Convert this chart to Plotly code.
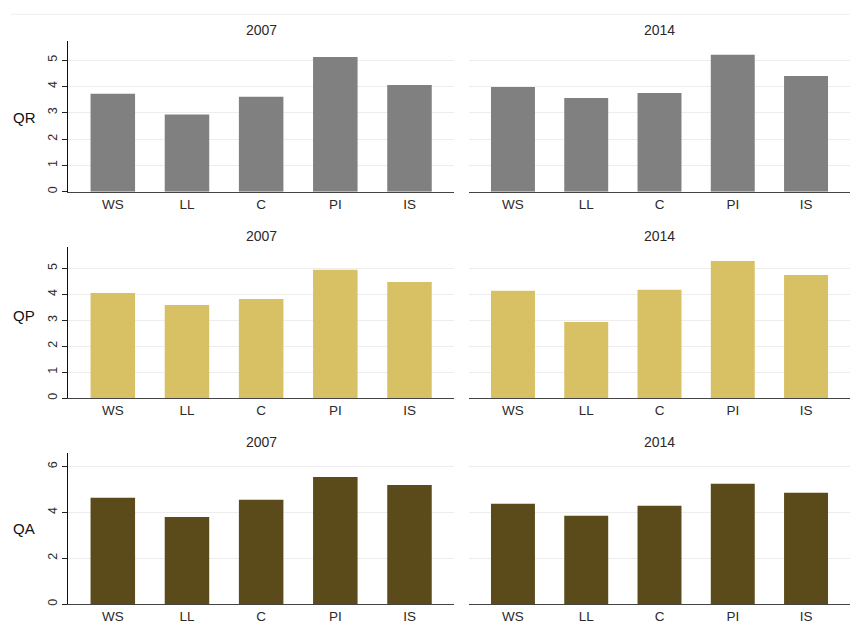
import plotly.graph_objects as go
from plotly.subplots import make_subplots

W, H = 851, 626

categories = ["WS", "LL", "C", "PI", "IS"]
years = ["2007", "2014"]
measures = ["QR", "QP", "QA"]

qr_2007 = [3.72, 2.93, 3.61, 5.12, 4.05]
qr_2014 = [3.98, 3.56, 3.75, 5.20, 4.40]
qp_2007 = [4.05, 3.59, 3.82, 4.95, 4.48]
qp_2014 = [4.14, 2.93, 4.18, 5.29, 4.75]
qa_2007 = [4.64, 3.80, 4.55, 5.55, 5.20]
qa_2014 = [4.38, 3.86, 4.29, 5.25, 4.86]

series = {
    "QR": (qr_2007, qr_2014),
    "QP": (qp_2007, qp_2014),
    "QA": (qa_2007, qa_2014),
}
bar_colors = {"QR": "#808080", "QP": "#D8C164", "QA": "#5B4A1A"}
y_ranges = {"QR": [0, 5.72], "QP": [0, 5.82], "QA": [0, 6.6]}
y_dtick = {"QR": 1, "QP": 1, "QA": 2}

# panel geometry in pixels (left, right) and (bottom, top)
col_px = [(68.3, 454), (469, 850)]
row_px = [(192.3, 41.3), (399.3, 248), (606, 454.3)]
title_y_px = [30, 236.7, 443]
label_y_px = [118, 317, 530]

FONT = "Liberation Sans, Arial, sans-serif"

fig = make_subplots(rows=3, cols=2)

for r, m in enumerate(measures):
    for c in range(2):
        vals = series[m][c]
        fig.add_trace(
            go.Bar(
                x=list(range(len(categories))),
                y=vals,
                width=0.6,
                marker=dict(color=bar_colors[m], line=dict(width=0)),
                showlegend=False,
                hoverinfo="x+y",
            ),
            row=r + 1, col=c + 1,
        )
        xd = [col_px[c][0] / W, col_px[c][1] / W]
        yd = [1 - row_px[r][0] / H, 1 - row_px[r][1] / H]
        fig.update_xaxes(
            domain=xd,
            range=[-0.6, 4.6],
            tickmode="array",
            tickvals=list(range(len(categories))),
            ticktext=categories,
            showgrid=False,
            zeroline=False,
            showline=True,
            linecolor="#444444",
            linewidth=1.3,
            ticks="",
            tickfont=dict(family=FONT, size=13.5, color="#2a2a2a"),
            fixedrange=True,
            row=r + 1, col=c + 1,
        )
        fig.update_yaxes(
            domain=yd,
            range=y_ranges[m],
            dtick=y_dtick[m],
            tick0=0,
            showgrid=True,
            gridcolor="#EDEDED",
            gridwidth=1,
            zeroline=False,
            showline=(c == 0),
            linecolor="#111111",
            linewidth=1.2,
            ticks="outside" if c == 0 else "",
            ticklen=5,
            tickcolor="#222222",
            showticklabels=(c == 0),
            tickangle=-90,
            tickfont=dict(family=FONT, size=12.5, color="#2a2a2a"),
            fixedrange=True,
            row=r + 1, col=c + 1,
        )
        # panel title
        fig.add_annotation(
            x=(xd[0] + xd[1]) / 2, y=1 - title_y_px[r] / H,
            xref="paper", yref="paper",
            text=years[c], showarrow=False,
            xanchor="center", yanchor="middle",
            font=dict(family=FONT, size=14, color="#2a2a2a"),
        )
    # row label
    fig.add_annotation(
        x=24 / W, y=1 - label_y_px[r] / H,
        xref="paper", yref="paper",
        text=m, showarrow=False,
        xanchor="center", yanchor="middle",
        font=dict(family=FONT, size=15, color="#111111"),
    )

# faint rule along the top of the graph region
fig.add_shape(
    type="line", xref="paper", yref="paper",
    x0=11 / W, x1=850 / W, y0=1 - 14.3 / H, y1=1 - 14.3 / H,
    line=dict(color="#EEEEEE", width=1),
)

fig.update_layout(
    width=W, height=H,
    margin=dict(l=0, r=0, t=0, b=0),
    paper_bgcolor="white",
    plot_bgcolor="white",
    font=dict(family=FONT),
    bargap=0.4,
)

fig.write_html("out.html")
